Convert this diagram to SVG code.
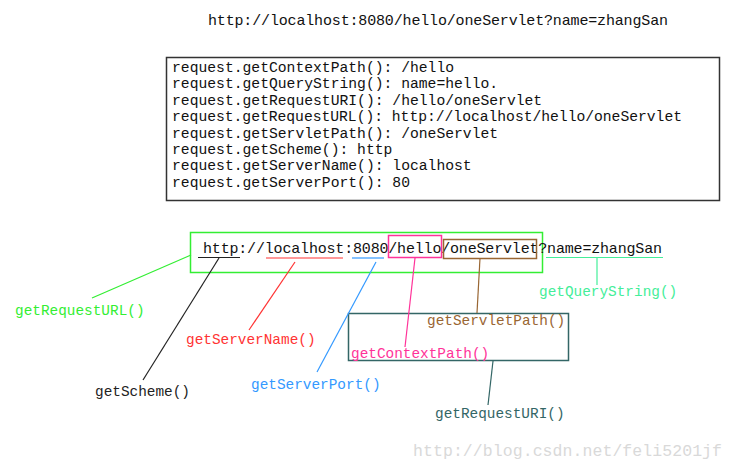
<svg xmlns="http://www.w3.org/2000/svg" width="733" height="470" viewBox="0 0 733 470">
<style>
  text { font-family: "Liberation Mono", "DejaVu Sans Mono", monospace; }
  .url { font-size: 15px; fill: #111; }
  .code { font-size: 14.7px; fill: #111; }
  .lbl { font-size: 14.4px; }
  .c { fill: none; stroke-width: 1.2; }
</style>
<rect width="733" height="470" fill="#fff"/>

<g id="title-url">
  <text class="url" x="208" y="25" textLength="460" lengthAdjust="spacing">http://localhost:8080/hello/oneServlet?name=zhangSan</text>
</g>

<g id="api-box">
  <rect x="166.5" y="57.5" width="553" height="143" fill="#fff" stroke="#333" stroke-width="1.5"/>
  <text class="code" x="172" y="72">request.getContextPath(): /hello</text>
  <text class="code" x="172" y="88.4">request.getQueryString(): name=hello.</text>
  <text class="code" x="172" y="104.8">request.getRequestURI(): /hello/oneServlet</text>
  <text class="code" x="172" y="121.2" textLength="510" lengthAdjust="spacing">request.getRequestURL(): http://localhost/hello/oneServlet</text>
  <text class="code" x="172" y="137.6">request.getServletPath(): /oneServlet</text>
  <text class="code" x="172" y="154">request.getScheme(): http</text>
  <text class="code" x="172" y="170.4">request.getServerName(): localhost</text>
  <text class="code" x="172" y="186.8">request.getServerPort(): 80</text>
</g>

<g id="url-breakdown">
  <rect x="190.5" y="232.5" width="352" height="40" fill="none" stroke="#33ee33" stroke-width="1.5"/>
  <text class="url" x="203" y="253" textLength="459" lengthAdjust="spacing">http://localhost:8080/hello/oneServlet?name=zhangSan</text>
  <rect x="388.5" y="235.5" width="53" height="22" fill="none" stroke="#ff3399" stroke-width="1.5"/>
  <rect x="443.5" y="239.5" width="93" height="19" fill="none" stroke="#996633" stroke-width="1.5"/>
  <line x1="198" y1="257.5" x2="240" y2="257.5" stroke="#222" stroke-width="1.2"/>
  <line x1="266" y1="258" x2="343" y2="258" stroke="#ff3333" stroke-width="1.2"/>
  <line x1="352" y1="258" x2="384" y2="258" stroke="#3399ff" stroke-width="1.2"/>
  <line x1="546" y1="257.5" x2="663" y2="257.5" stroke="#44ee99" stroke-width="1.2"/>
</g>

<g id="uri-box">
  <rect x="348.5" y="313.5" width="220" height="47" fill="none" stroke="#336666" stroke-width="1.5"/>
</g>

<g id="connectors">
  <line class="c" x1="191" y1="255" x2="92" y2="298" stroke="#33ee33"/>
  <line class="c" x1="219" y1="258" x2="143" y2="380" stroke="#222"/>
  <line class="c" x1="295" y1="262" x2="249" y2="330" stroke="#ff3333"/>
  <line class="c" x1="376" y1="262" x2="317" y2="372" stroke="#3399ff"/>
  <line class="c" x1="415" y1="258" x2="405" y2="347" stroke="#ff3399"/>
  <line class="c" x1="480" y1="258" x2="477" y2="313" stroke="#996633"/>
  <line class="c" x1="597" y1="258" x2="597" y2="285" stroke="#44ee99"/>
  <line class="c" x1="493" y1="361" x2="488" y2="405" stroke="#336666"/>
</g>

<g id="lbl-getRequestURL">
  <text class="lbl" x="15" y="315" fill="#33ee33">getRequestURL()</text>
</g>
<g id="lbl-getScheme">
  <text class="lbl" x="95" y="396" fill="#222">getScheme()</text>
</g>
<g id="lbl-getServerName">
  <text class="lbl" x="186" y="344" fill="#ff3333">getServerName()</text>
</g>
<g id="lbl-getServerPort">
  <text class="lbl" x="251" y="389" fill="#3399ff">getServerPort()</text>
</g>
<g id="lbl-getContextPath">
  <text class="lbl" x="351" y="358" fill="#ff3399">getContextPath()</text>
</g>
<g id="lbl-getServletPath">
  <text class="lbl" x="427" y="325" fill="#996633">getServletPath()</text>
</g>
<g id="lbl-getQueryString">
  <text class="lbl" x="539" y="296" fill="#44ee99">getQueryString()</text>
</g>
<g id="lbl-getRequestURI">
  <text class="lbl" x="435" y="418" fill="#336666">getRequestURI()</text>
</g>

<g id="watermark">
  <text x="413" y="456" font-size="16.5" fill="#d9d9d9" textLength="309" lengthAdjust="spacing">http://blog.csdn.net/feli5201jf</text>
</g>
</svg>
